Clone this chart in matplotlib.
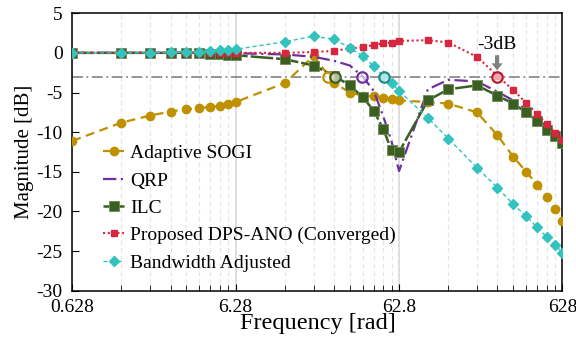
import numpy as np
import matplotlib
matplotlib.use("Agg")
import matplotlib.pyplot as plt
from matplotlib.ticker import FixedLocator, FixedFormatter, NullFormatter

# frequency points [rad]
freq = [0.628, 1.256, 1.884, 2.512, 3.14, 3.768, 4.396, 5.024, 5.652, 6.28,
        12.56, 18.84, 25.12, 31.4, 37.68, 43.96, 50.24, 56.52, 62.8,
        94.2, 125.6, 188.4, 251.2, 314.0, 376.8, 439.6, 502.4, 565.2, 628.0]

sogi = [-11.1, -8.8, -7.9, -7.4, -7.1, -7.0, -6.8, -6.7, -6.5, -6.2,
        -3.8, -0.4, -3.8, -5.0, -5.4, -5.5, -5.7, -5.8, -6.0,
        -6.2, -6.4, -7.5, -10.4, -13.1, -15.0, -16.6, -18.2, -19.7, -21.2]
qrp = [0, 0, 0, 0, 0, 0, 0, 0, 0, -0.05,
       -0.2, -0.5, -1.0, -1.6, -3.0, -4.8, -8.0, -11.2, -14.9,
       -4.6, -3.4, -3.6, -4.9, -6.0, -7.2, -8.3, -9.3, -10.2, -11.1]
ilc = [0, 0, 0, 0, 0, 0, -0.1, -0.2, -0.25, -0.3,
       -0.8, -1.6, -2.9, -4.1, -5.6, -7.3, -9.6, -12.3, -12.5,
       -6.0, -4.6, -4.1, -5.4, -6.4, -7.5, -8.6, -9.7, -10.5, -11.4]
proposed = [0, 0, 0, 0, 0, 0, 0, 0, 0, 0,
            0.0, 0.1, 0.25, 0.55, 0.7, 1.0, 1.2, 1.3, 1.5,
            1.6, 1.3, -0.5, -2.9, -4.7, -6.3, -7.7, -9.0, -10.1, -11.0]
bw_adj = [0, 0, 0, 0.05, 0.1, 0.15, 0.2, 0.3, 0.35, 0.45,
          1.4, 2.1, 1.7, 0.65, -0.4, -1.7, -2.9, -3.8, -4.8,
          -8.2, -10.8, -14.5, -17.0, -19.1, -20.6, -22.0, -23.2, -24.2, -25.2]

# -3 dB crossing points (sogi, ilc, qrp, bw_adj, proposed)
cross_freq = [23.0, 25.6, 37.4, 50.7, 249.0]
cross_color = ["#BF9000", "#3B5E21", "#7030A0", "#1F8A86", "#C0182F"]

xticks = [0.628, 6.28, 62.8, 628]
xticklabels = ["0.628", "6.28", "62.8", "628"]
yticks = [5, 0, -5, -10, -15, -20, -25, -30]

plt.rcParams["font.family"] = ["Liberation Serif", "DejaVu Serif"]
plt.rcParams["axes.unicode_minus"] = False

fig = plt.figure(figsize=(5.76, 3.47), dpi=100)
ax = fig.add_axes([0.1255, 0.162, 0.851, 0.800])

ax.axhline(-3, color="#8c8c8c", lw=1.3, ls=(0, (6, 2, 1, 2)), zorder=1)

ax.plot(freq, sogi, color="#BF9000", lw=1.6, ls=(0, (4, 2.5)), marker="o",
        ms=6, label="Adaptive SOGI", zorder=3)
ax.plot(freq, qrp, color="#7030A0", lw=1.6, ls=(0, (6, 2, 1, 2)),
        label="QRP", zorder=3)
ax.plot(freq, ilc, color="#3B5E21", lw=1.8, ls=(0, (9, 1.2)), marker="s",
        ms=6.5, mec="#6f8a5a", mew=0.6, label="ILC", zorder=4)
ax.plot(freq, proposed, color="#D7263D", lw=1.5, ls=(0, (1, 1.3)), marker="s",
        ms=5, label="Proposed DPS-ANO (Converged)", zorder=5)
ax.plot(freq, bw_adj, color="#33C3BE", lw=1.0, ls=(0, (3, 2)), marker="D",
        ms=5.5, label="Bandwidth Adjusted", zorder=6)

for f, c in zip(cross_freq, cross_color):
    ax.plot([f], [-3], marker="o", ms=7.5, mfc=(1, 1, 1, 0.6), mec=c, mew=1.6,
            ls="none", zorder=7)

ax.annotate("", xy=(250, -2.2), xytext=(250, -0.3),
            arrowprops=dict(facecolor="#808080", edgecolor="none", width=3,
                            headwidth=8, headlength=5), zorder=8)
ax.text(250, 1.1, "-3dB", ha="center", va="center", fontsize=14)

ax.set_xscale("log")
ax.set_xlim(0.628, 628)
ax.set_ylim(-30, 5)
ax.xaxis.set_major_locator(FixedLocator(xticks))
ax.xaxis.set_major_formatter(FixedFormatter(xticklabels))
minor = [m * k for m in (0.628, 6.28, 62.8) for k in range(2, 10)]
ax.xaxis.set_minor_locator(FixedLocator(minor))
ax.xaxis.set_minor_formatter(NullFormatter())
ax.set_yticks(yticks)

ax.grid(which="minor", axis="x", color="#e4e4e4", ls=(0, (4, 3)), lw=0.8)
ax.grid(which="major", axis="x", color="#d8d8d8", ls="-", lw=1.2)
ax.set_axisbelow(True)

ax.tick_params(which="both", direction="in", labelsize=14, top=False, right=False)
ax.tick_params(which="major", length=5)
ax.tick_params(which="minor", length=4)
ax.tick_params(axis="x", pad=6)
ax.tick_params(axis="y", pad=7)
for s in ax.spines.values():
    s.set_linewidth(1.1)

ax.set_xlabel("Frequency [rad]", fontsize=17.5, labelpad=-2)
ax.set_ylabel("Magnitude [dB]", fontsize=15, labelpad=2)

ax.legend(loc="lower left", bbox_to_anchor=(0.035, 0.02), frameon=False,
          fontsize=14, handlelength=1.1, handletextpad=0.3, labelspacing=0.5,
          borderpad=0.2)

fig.savefig("out.png", dpi=100)
